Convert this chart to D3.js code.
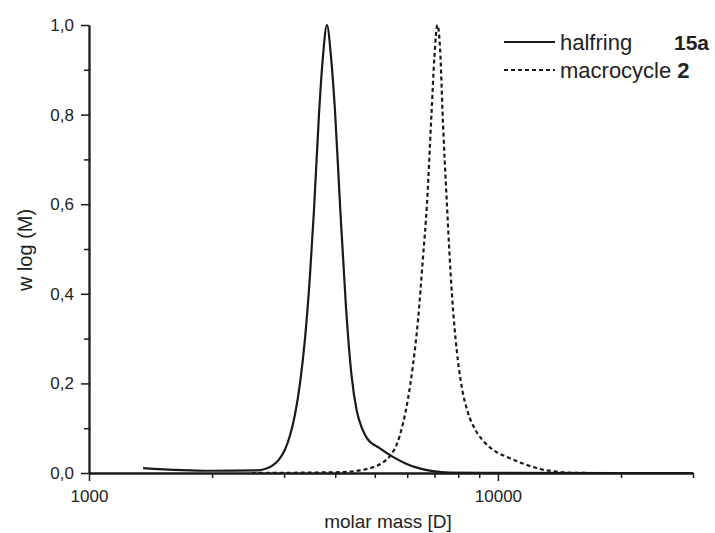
<!DOCTYPE html>
<html>
<head>
<meta charset="utf-8">
<script src="https://cdn.jsdelivr.net/npm/d3@7"></script>
<style>
  html, body { margin: 0; padding: 0; background: #fff; }
  svg { display: block; font-family: "Liberation Sans", Arial, sans-serif; }
</style>
</head>
<body>
<svg id="chart" width="715" height="533"></svg>
<script>
// ---- data ----
const halfringMass = [1356, 1976, 2575, 2694, 2802, 2914, 3014, 3100, 3189, 3281, 3375, 3470, 3550, 3651, 3734, 3819, 3906, 3995, 4110, 4251, 4389, 4514, 4651, 4783, 5146, 5538, 5925, 6338, 6935, 7631, 10000, 20000, 30000];
const halfringW    = [0.011, 0.005, 0.006, 0.009, 0.016, 0.030, 0.052, 0.083, 0.130, 0.200, 0.300, 0.440, 0.587, 0.800, 0.930, 1.000, 0.930, 0.810, 0.600, 0.370, 0.215, 0.140, 0.100, 0.078, 0.055, 0.036, 0.022, 0.012, 0.004, 0.001, 0.0005, 0.0, 0.0];

const macroMass = [2500, 4179, 4599, 4920, 5204, 5445, 5664, 5858, 6025, 6197, 6375, 6557, 6706, 6878, 6995, 7114, 7236, 7318, 7504, 7718, 7940, 8166, 8446, 8785, 9140, 9722, 10699, 11774, 12669, 13942, 15258, 16790];
const macroW    = [0.0, 0.002, 0.006, 0.012, 0.022, 0.038, 0.065, 0.110, 0.165, 0.240, 0.340, 0.480, 0.600, 0.800, 0.930, 1.000, 0.930, 0.810, 0.600, 0.400, 0.270, 0.190, 0.135, 0.098, 0.075, 0.052, 0.033, 0.018, 0.009, 0.003, 0.0005, 0.0];

const xMajorTicks = [1000, 10000];
const xMinorTicks = [2000, 3000, 4000, 5000, 6000, 7000, 8000, 9000, 20000, 30000];
const yMajorTicks = [0.0, 0.2, 0.4, 0.6, 0.8, 1.0];
const yMinorTicks = [0.1, 0.3, 0.5, 0.7, 0.9];

const xTitle = "molar mass [D]";
const yTitle = "w log (M)";
const legendNames = ["halfring", "macrocycle "];
const legendTags = ["15a", "2"];

// ---- layout ----
const svg = d3.select("#chart");
const x = d3.scaleLog().domain([1000, 30000]).range([89, 693]);
const y = d3.scaleLinear().domain([0, 1]).range([473, 25]);
const ink = "#1a1a1a";
const txt = "#222";
const fmt = d => d.toFixed(1).replace(".", ",");

// x axis
const gx = svg.append("g").attr("transform", `translate(0,${y(0)})`);
gx.call(d3.axisBottom(x).tickValues(xMajorTicks).tickFormat(d3.format("d")).tickSize(8).tickSizeOuter(0).tickPadding(9));
gx.append("g").call(d3.axisBottom(x).tickValues(xMinorTicks).tickFormat("").tickSize(5).tickSizeOuter(0));
gx.selectAll(".domain").attr("stroke", ink).attr("stroke-width", 1.8);
gx.selectAll(".tick line").attr("stroke", ink).attr("stroke-width", 1.5);
gx.selectAll(".tick text").attr("font-size", 17).attr("fill", txt).attr("font-family", "Liberation Sans, Arial, sans-serif");

// y axis
const gy = svg.append("g").attr("transform", `translate(${x(1000)},0)`);
gy.call(d3.axisLeft(y).tickValues(yMajorTicks).tickFormat(fmt).tickSize(8).tickSizeOuter(0).tickPadding(7));
gy.append("g").call(d3.axisLeft(y).tickValues(yMinorTicks).tickFormat("").tickSize(5).tickSizeOuter(0));
gy.selectAll(".domain").attr("stroke", ink).attr("stroke-width", 1.8);
gy.selectAll(".tick line").attr("stroke", ink).attr("stroke-width", 1.5);
gy.selectAll(".tick text").attr("font-size", 17).attr("fill", txt).attr("font-family", "Liberation Sans, Arial, sans-serif");

// titles
svg.append("text").attr("x", 388).attr("y", 528).attr("text-anchor", "middle")
  .attr("font-size", 19).attr("fill", txt).text(xTitle);
svg.append("text").attr("transform", "translate(32,250) rotate(-90)").attr("text-anchor", "middle")
  .attr("font-size", 20).attr("fill", txt).text(yTitle);

// curves
const line = d3.line().x(d => x(d[0])).y(d => y(d[1])).curve(d3.curveMonotoneX);
const halfring = halfringMass.map((m, i) => [m, halfringW[i]]);
const macro = macroMass.map((m, i) => [m, macroW[i]]);

svg.append("path").datum(macro).attr("d", line).attr("fill", "none")
  .attr("stroke", ink).attr("stroke-width", 2.2).attr("stroke-dasharray", "4,3");
svg.append("path").datum(halfring).attr("d", line).attr("fill", "none")
  .attr("stroke", ink).attr("stroke-width", 2.2);

// legend
const dashes = [null, "4,3"];
const lg = svg.append("g");
legendNames.forEach((name, i) => {
  const yy = 42 + i * 28;
  lg.append("line").attr("x1", 504).attr("x2", 555).attr("y1", yy).attr("y2", yy)
    .attr("stroke", ink).attr("stroke-width", 2).attr("stroke-dasharray", dashes[i]);
  const t = lg.append("text").attr("x", 560).attr("y", yy + 8).attr("font-size", 22).attr("fill", txt);
  t.append("tspan").text(name);
  if (i === 0) {
    lg.append("text").attr("x", 709).attr("y", yy + 8).attr("text-anchor", "end")
      .attr("font-size", 21).attr("font-weight", "bold").attr("fill", txt).text(legendTags[i]);
  } else {
    t.append("tspan").attr("font-weight", "bold").text(legendTags[i]);
  }
});
</script>
</body>
</html>
